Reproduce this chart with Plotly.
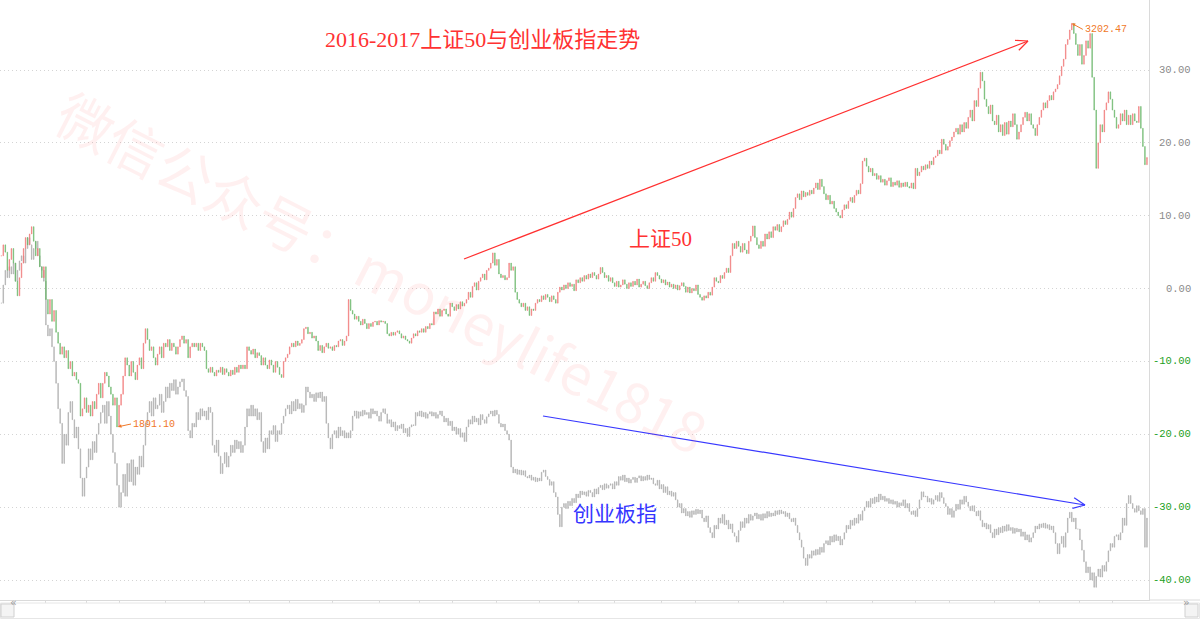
import math
import plotly.graph_objects as go

# ---------------- data (percent change vs. base) ----------------
sz50_close = [
    4.5, 6.0, 5.0, 2.5, 4.0, 5.5, 3.5, 1.0, -1.0, 1.5,
    3.5, 5.5, 7.0, 6.0, 7.5, 8.5, 6.5, 4.5, 5.5, 3.0,
    1.5, 3.0, -1.5, -3.5, -1.5, -4.5, -3.0, -6.0, -7.5, -9.0,
    -8.0, -9.5, -8.5, -11.0, -10.0, -12.0, -11.5, -12.5, -13.0, -17.5,
    -16.5, -15.0, -17.0, -16.0, -17.5, -15.5, -16.5, -14.5, -13.0, -15.0,
    -13.0, -11.5, -12.0, -13.5, -14.5, -16.0, -15.0, -19.0, -16.0, -14.5,
    -12.0, -9.5, -10.5, -12.0, -10.0, -11.5, -12.5, -10.5, -9.5, -11.0,
    -7.5, -5.5, -7.0, -8.5, -8.0, -9.5, -10.5, -9.0, -8.0, -9.5,
    -7.5, -8.0, -7.0, -8.5, -7.5, -8.0, -9.0, -8.0, -7.0, -6.5,
    -7.5, -7.0, -9.5, -8.0, -7.5, -8.0, -7.5, -8.5, -7.5, -8.0,
    -8.5, -11.0, -11.5, -10.8, -11.5, -12.0, -11.2, -11.5, -10.8, -11.8,
    -11.0, -11.5, -12.0, -11.2, -11.8, -10.8, -11.5, -10.5, -11.0, -10.5,
    -11.0, -8.0, -8.5, -9.0, -8.3, -9.5, -8.8, -9.2, -10.5, -9.5,
    -10.5, -11.0, -9.8, -10.5, -11.5, -10.0, -10.8, -11.8, -12.2, -10.0,
    -9.5, -9.0, -8.0, -7.5, -8.0, -7.2, -7.8, -7.5, -7.0, -5.5,
    -5.3, -6.2, -6.0, -6.8, -6.5, -7.2, -8.5, -7.8, -8.8, -8.0,
    -7.5, -8.2, -8.0, -8.5, -7.8, -8.0, -7.2, -7.0, -7.8, -7.2,
    -6.5, -1.5, -3.0, -3.5, -4.2, -3.8, -4.5, -5.0, -4.2, -4.8,
    -5.5, -4.8, -5.2, -4.6, -4.5, -5.0, -4.4, -4.6, -4.5, -4.8,
    -6.2, -6.5, -6.0, -6.4, -6.0, -5.8, -6.2, -6.8, -6.5, -7.0,
    -7.2, -7.5, -6.8, -6.2, -6.5, -5.8, -6.0, -5.5, -6.0, -5.2,
    -5.5, -4.8, -5.0, -3.2, -3.5, -2.8, -3.8, -3.0, -2.8, -3.5,
    -3.8, -2.0, -2.5, -3.0, -2.2, -2.8, -1.8, -2.4, -2.0, -1.5,
    -0.5, -1.2, 0.3, 0.8, -0.2, 1.0, 1.5, 2.0, 1.2, 2.5,
    2.8, 3.5, 4.9, 3.2, 4.0, 2.0, 1.5, 1.8, 1.2, 1.5,
    3.5, 2.5, 3.0, -0.5, -1.5, -2.0, -2.5, -2.0, -3.0, -2.5,
    -3.7, -2.8, -3.0, -2.0, -1.5, -1.8, -1.0, -1.5, -0.8, -1.2,
    -1.8, -1.0, -1.5, -2.0, -0.5, 0.2, -0.2, 0.5, 0.0, 0.8,
    0.3, 0.6, -0.3, 1.2, 0.8, 1.5, 1.0, 1.8, 1.3, 2.0,
    1.5, 2.2, 1.8, 1.3, 2.0, 2.9, 2.2, 1.5, 1.8, 1.0,
    1.5, 0.8, 0.3, 1.0, 0.2, 0.5, 1.2, 0.6, 0.0, 0.8,
    0.3, 1.0, 0.5, 1.3, 0.2, 0.6, 1.0, 0.4, 0.0, 0.8,
    1.5, 1.0, 2.2, 1.8, 1.3, 0.8, 1.2, 0.5, 0.9, 0.2,
    0.6, 0.0, 0.5, -0.2, 0.4, 0.8, 0.3, -0.5, 0.2, -0.6,
    0.0, -0.3, 0.5, -0.8, -1.2, -1.6, -1.0, -1.3, -0.5, -0.9,
    0.2, 1.5, 1.0, 0.8, 1.8, 1.4, 2.2, 2.8, 2.2, 4.5,
    6.2, 5.5, 6.5, 5.8, 5.0, 6.2, 5.3, 4.8, 6.5, 7.2,
    8.6, 7.0, 6.0, 5.5, 6.5, 5.8, 7.5, 6.8, 7.8, 7.0,
    8.5, 8.0, 8.8, 7.8, 8.5, 9.3, 8.8, 9.5, 10.5, 9.8,
    11.0, 12.5, 13.0, 12.2, 13.4, 12.6, 13.2, 12.8, 13.5, 13.0,
    13.8, 14.5, 13.6, 15.0, 14.0, 13.0, 12.2, 12.8, 11.6, 12.0,
    11.0, 10.5, 10.0, 9.7, 10.8, 11.5, 11.0, 12.0, 12.5, 11.8,
    12.8, 13.5, 13.0, 14.4, 17.5, 17.9, 16.8, 16.0, 16.5, 15.5,
    15.8, 15.0, 15.5, 14.6, 15.0, 14.2, 14.8, 15.2, 14.0, 14.6,
    14.2, 14.8, 13.9, 14.5, 14.0, 14.6, 14.0, 13.8, 14.5, 13.7,
    16.5, 15.5, 16.0, 16.8, 16.3, 17.0, 16.5, 17.5, 17.0, 18.0,
    18.2, 19.0, 18.5, 20.5, 19.8, 19.0, 19.5, 20.3, 20.8, 21.5,
    22.0, 21.2, 22.5, 21.5, 22.8, 22.0, 23.5, 24.5, 23.0, 25.8,
    25.0, 27.5, 29.7, 28.5, 26.0, 25.0, 24.0, 25.2, 23.0, 22.5,
    23.8, 21.5, 22.5, 21.0, 22.8, 21.2, 23.0, 22.2, 24.0, 22.5,
    20.5, 21.5, 22.5, 23.5, 24.2, 23.0, 24.0, 22.5, 22.0, 21.0,
    22.5, 23.5, 24.5, 25.5, 24.8, 25.8, 26.5, 25.9, 27.0, 27.4,
    28.0, 29.2, 30.5, 31.5, 33.5, 34.2, 35.5, 36.4, 35.0, 33.5,
    32.0, 33.5, 30.8, 32.0, 34.0, 33.0, 35.0, 29.0, 24.5, 16.5,
    20.0, 22.5, 21.5, 24.5, 25.5, 27.0, 26.0, 24.5, 23.5, 22.0,
    22.5, 24.0, 23.0, 24.5, 22.5, 23.8, 22.5, 24.0, 23.0, 22.8,
    25.0, 22.0, 19.5, 17.0, 18.0,
]

cyb_close = [
    -2.0, 0.5, 2.5, 1.5, 3.0, 2.0, 3.5, 1.0, 2.5, 3.8,
    4.5, 3.5, 5.5, 7.0, 6.0, 4.0, 5.5, 6.5, 4.5, 3.0,
    2.5, 1.0, -5.0, -6.5, -5.5, -8.0, -10.0, -13.0, -16.5, -18.5,
    -24.0, -20.0, -21.5, -17.0, -15.5, -18.0, -20.5, -19.0, -22.0, -26.0,
    -28.5, -26.0, -24.5, -22.0, -23.5, -21.0, -22.5, -20.0, -18.5, -17.0,
    -16.0, -18.5, -15.5, -17.5, -20.0, -22.5, -24.0, -27.0, -30.0, -28.0,
    -25.5, -28.5, -24.0, -26.5, -23.5, -27.0, -24.5, -25.5, -23.0, -24.5,
    -21.5, -18.5, -17.0, -15.5, -17.5, -15.0, -16.5, -16.0, -14.5, -17.0,
    -15.5, -13.5, -15.0, -13.0, -14.0, -12.5, -14.5, -13.5, -12.8, -12.4,
    -14.0, -14.8, -19.5, -20.5, -18.5, -19.0, -17.0, -18.0, -16.5, -17.5,
    -16.8, -18.0, -16.3, -17.0, -21.5, -22.5, -20.8, -23.0, -25.4, -24.0,
    -22.5, -24.5, -23.0, -21.5, -22.5, -20.8, -22.0, -21.0, -22.5, -21.5,
    -19.0, -16.5, -17.5, -16.0, -17.5, -16.5, -18.0, -17.0, -21.0, -22.5,
    -20.5, -22.0, -19.5, -20.0, -18.8, -21.0, -19.5, -20.0, -18.5, -17.5,
    -16.5, -16.0, -17.2, -15.5, -16.8, -15.2, -16.5, -15.8, -17.0, -16.0,
    -13.5, -14.2, -15.0, -14.5, -15.5, -14.3, -15.0, -14.2, -15.5, -14.8,
    -18.5, -20.5, -22.0, -20.0, -19.5, -20.5, -19.0, -20.2, -19.5, -20.5,
    -19.8, -20.5, -19.5, -17.5, -16.8, -17.8, -16.9, -17.5, -16.7, -17.3,
    -17.0, -17.8, -16.5, -17.2, -16.8, -17.5, -18.2, -17.0, -16.5, -17.2,
    -18.5, -18.0, -19.0, -18.3, -19.5, -18.8, -19.2, -18.6, -19.8, -19.2,
    -20.3, -19.0, -18.7, -18.8, -17.0, -17.5, -16.8, -17.6, -17.0, -17.8,
    -17.2, -16.9, -17.5, -17.0, -17.8, -17.3, -16.8, -17.5, -18.3, -17.8,
    -18.8, -18.2, -19.5, -19.0, -20.0, -19.2, -20.4, -19.8, -21.0, -19.0,
    -18.0, -18.6, -17.5, -18.3, -17.8, -18.7, -17.3, -18.0, -18.5, -17.6,
    -17.2, -16.8, -17.5, -16.7, -17.3, -18.5, -19.0, -18.6, -19.5, -20.0,
    -20.8, -24.5, -25.3, -24.8, -25.5, -24.9, -25.6, -25.0, -25.8, -26.0,
    -25.6, -26.3, -25.9, -26.5, -26.0, -26.4, -25.2, -24.9, -25.8, -26.2,
    -27.0, -26.5, -28.0, -28.6, -31.0, -32.7, -30.0, -29.5, -30.2, -29.2,
    -29.8, -28.8, -29.4, -28.2, -28.7, -27.8, -28.3, -27.9, -28.5, -27.7,
    -28.0, -28.6, -27.5, -28.2, -27.3, -27.0, -27.6, -26.8, -27.4, -27.0,
    -26.8, -27.5, -26.5, -27.0, -25.8, -26.3, -25.6, -26.5, -26.0, -26.7,
    -26.2, -25.9, -26.6, -26.0, -25.7, -26.4, -25.8, -26.3, -25.6, -26.2,
    -26.0, -26.8, -27.0, -26.3, -27.5, -26.9, -28.0, -27.2, -28.3, -27.8,
    -28.5, -28.0, -29.0, -30.0, -29.5, -30.8, -30.2, -31.2, -30.6, -31.4,
    -30.5, -31.0, -30.3, -30.9, -30.4, -31.5, -32.0, -31.2, -32.8, -33.5,
    -34.2, -32.5, -33.0, -31.5, -32.2, -31.0, -32.4, -31.8, -33.0, -32.3,
    -33.5, -34.0, -34.8, -33.2, -32.0, -32.8, -31.5, -32.2, -31.0, -31.8,
    -31.2, -30.8, -31.6, -31.0, -31.8, -30.9, -31.5, -30.6, -31.3, -30.8,
    -31.2, -30.5, -31.0, -30.4, -30.9, -30.6, -31.3, -30.8, -31.6, -32.0,
    -31.5, -32.5, -33.5, -34.5, -35.5, -37.0, -38.0, -36.5, -37.0, -36.0,
    -36.6, -35.8, -36.5, -35.5, -36.2, -35.0, -34.6, -35.2, -34.0, -34.8,
    -33.8, -34.6, -34.0, -35.2, -34.4, -33.5, -32.5, -33.0, -31.8, -32.5,
    -31.5, -32.2, -31.0, -31.8, -30.5, -30.0, -29.2, -30.0, -28.8, -29.5,
    -28.6, -29.3, -28.2, -29.0, -28.5, -29.2, -28.8, -29.5, -29.0, -29.6,
    -29.2, -30.0, -29.4, -29.8, -29.0, -30.1, -29.5, -30.6, -31.0, -30.5,
    -31.3, -30.2, -29.0, -27.9, -28.6, -28.5, -29.3, -28.8, -29.6, -29.0,
    -28.4, -29.2, -28.0, -28.7, -29.5, -29.9, -31.0, -30.2, -31.4, -30.5,
    -29.6, -30.3, -29.0, -29.6, -28.5, -29.3, -29.9, -30.5, -29.8, -30.6,
    -31.2, -30.5, -31.8, -32.7, -32.2, -33.0, -32.4, -33.5, -34.2, -33.0,
    -33.8, -32.8, -33.5, -32.6, -33.3, -32.4, -33.2, -32.8, -33.6, -32.9,
    -33.4, -33.0, -34.0, -33.4, -34.5, -33.8, -34.8, -34.2, -33.5, -32.6,
    -33.0, -32.3, -32.8, -32.2, -32.9, -32.4, -33.1, -32.6, -33.5, -35.0,
    -36.4, -35.0, -34.0, -35.5, -33.5, -31.5, -30.7, -32.0, -31.5, -33.0,
    -33.0, -34.5, -35.9, -37.5, -39.0, -38.2, -40.0, -39.0, -41.0, -39.5,
    -38.5, -39.6, -38.0, -38.8, -37.5, -36.0, -35.0, -35.5, -34.0, -33.8,
    -34.5, -33.5, -31.5, -32.5, -29.5, -28.4, -29.5, -30.2, -30.7, -29.8,
    -30.5, -31.0, -30.2, -35.5, -31.5,
]

y_tick_values = [30, 20, 10, 0, -10, -20, -30, -40]
y_tick_labels = ["30.00", "20.00", "10.00", "0.00", "-10.00", "-20.00", "-30.00", "-40.00"]
month_tick_index = [22, 42, 58, 81, 100, 122, 142, 163, 186, 206, 222, 244, 265, 284,
                    302, 325, 342, 363, 385, 406, 429, 450, 467, 489, 511, 531, 547]

title_text = "2016-2017上证50与创业板指走势"
sz50_name = "上证50"
cyb_name = "创业板指"
watermark_text = "微信公众号：moneylife1818"
low_price_label = "1891.10"
high_price_label = "3202.47"

# ---------------- geometry / style ----------------
W, H = 1200, 620
PLOT_W, PLOT_H = 1149, 600
X_RANGE = [-0.6, 565.0]
Y_RANGE = [-42.745, 39.61]

RED = "#F07A7A"
GREEN = "#6DB86D"
GRAY = "#ADADAD"
ORANGE = "#F07828"
LINE_GRAY = "#DADADA"

n = min(len(sz50_close), len(cyb_close))
sz50_close = sz50_close[:n]
cyb_close = cyb_close[:n]
idx = list(range(n))


def ohlc(close):
    o = [close[0]] + close[:-1]
    h = [max(a, b) for a, b in zip(o, close)]
    l = [min(a, b) for a, b in zip(o, close)]
    return o, h, l


def px_to_x(px):
    return X_RANGE[0] + px / PLOT_W * (X_RANGE[1] - X_RANGE[0])


def py_to_y(py):
    return Y_RANGE[1] - py / PLOT_H * (Y_RANGE[1] - Y_RANGE[0])


fig = go.Figure()

co, ch, cl = ohlc(cyb_close)
fig.add_trace(go.Candlestick(
    x=idx, open=co, high=ch, low=cl, close=cyb_close,
    increasing=dict(line=dict(color=GRAY, width=0.5), fillcolor=GRAY),
    decreasing=dict(line=dict(color=GRAY, width=0.5), fillcolor=GRAY),
    whiskerwidth=0, showlegend=False, hoverinfo="skip", name=cyb_name))

so, sh, sl = ohlc(sz50_close)
fig.add_trace(go.Candlestick(
    x=idx, open=so, high=sh, low=sl, close=sz50_close,
    increasing=dict(line=dict(color=RED, width=0.5), fillcolor=RED),
    decreasing=dict(line=dict(color=GREEN, width=0.5), fillcolor=GREEN),
    whiskerwidth=0, showlegend=False, hoverinfo="skip", name=sz50_name))

shapes = []


def arrow(p0, p1, color):
    (x0, y0), (x1, y1) = p0, p1
    shapes.append(dict(type="line", xref="x", yref="y",
                       x0=px_to_x(x0), y0=py_to_y(y0), x1=px_to_x(x1), y1=py_to_y(y1),
                       line=dict(color=color, width=1.2)))
    ang = math.atan2(y1 - y0, x1 - x0)
    for s in (1, -1):
        a = ang + math.pi + s * 0.42
        wx, wy = x1 + 13 * math.cos(a), y1 + 13 * math.sin(a)
        shapes.append(dict(type="line", xref="x", yref="y",
                           x0=px_to_x(x1), y0=py_to_y(y1), x1=px_to_x(wx), y1=py_to_y(wy),
                           line=dict(color=color, width=1.2)))


arrow((464, 259), (1028, 41), "#FF3030")
arrow((543, 416), (1085, 505), "#3838FF")

# bottom axis extension and scrollbar
px = lambda v: v / PLOT_W
py = lambda v: (PLOT_H - v) / PLOT_H
shapes.append(dict(type="line", xref="paper", yref="paper", x0=px(PLOT_W), x1=px(W), y0=0, y1=0,
                   line=dict(color=LINE_GRAY, width=1)))
shapes.append(dict(type="rect", xref="paper", yref="paper", x0=px(0.5), x1=px(W - 0.5),
                   y0=py(618.5), y1=py(603), line=dict(color="#E6E6E6", width=1), fillcolor="#FFFFFF"))
for bx in (1, 1185):
    shapes.append(dict(type="rect", xref="paper", yref="paper", x0=px(bx), x1=px(bx + 13),
                       y0=py(617), y1=py(604), line=dict(color="#D0D0D0", width=1), fillcolor="#F4F4F4"))

annotations = []
for v, t in zip(y_tick_values, y_tick_labels):
    annotations.append(dict(xref="paper", yref="y", x=px(1193), y=v, text=t, showarrow=False,
                            xanchor="right", yanchor="middle",
                            font=dict(family="Liberation Mono, monospace", size=10.5,
                                      color="#8A8A8A" if v >= 0 else "#22A022")))

annotations.append(dict(xref="paper", yref="paper", x=px(7.5), y=py(610.5), text="«", showarrow=False,
                        font=dict(size=11, color="#999999", family="DejaVu Sans")))
annotations.append(dict(xref="paper", yref="paper", x=px(1191.5), y=py(610.5), text="»", showarrow=False,
                        font=dict(size=11, color="#999999", family="DejaVu Sans")))

# watermark
annotations.append(dict(xref="paper", yref="paper", x=px(383), y=py(270), text=watermark_text,
                        showarrow=False, textangle=27,
                        font=dict(family="Noto Sans CJK SC, sans-serif", size=56,
                                  color="rgba(255,60,60,0.075)")))

# titles / labels
annotations.append(dict(xref="paper", yref="paper", x=px(482), y=py(40), yanchor="middle",
                        text=title_text, showarrow=False,
                        font=dict(family="Liberation Serif, Noto Sans CJK SC", size=22, color="#FF3232")))
annotations.append(dict(xref="paper", yref="paper", x=px(660), y=py(239), text=sz50_name, showarrow=False,
                        font=dict(family="Liberation Serif, Noto Sans CJK SC", size=21, color="#FF3232")))
annotations.append(dict(xref="paper", yref="paper", x=px(615), y=py(529), text=cyb_name, showarrow=False,
                        font=dict(family="Noto Sans CJK SC", size=21, color="#3535FF")))

# low / high price labels
lo_i = min(idx, key=lambda i: sz50_close[i])
hi_i = max(idx, key=lambda i: sz50_close[i])
annotations.append(dict(x=lo_i, y=sz50_close[lo_i], xref="x", yref="y", text=low_price_label,
                        showarrow=True, ax=14, ay=-3, xanchor="left", arrowhead=2, arrowsize=0.7,
                        arrowwidth=1, arrowcolor=ORANGE, standoff=1,
                        font=dict(family="Liberation Mono, monospace", size=10, color=ORANGE)))
annotations.append(dict(x=hi_i, y=sz50_close[hi_i], xref="x", yref="y", text=high_price_label,
                        showarrow=True, ax=11, ay=6, xanchor="left", arrowhead=2, arrowsize=0.7,
                        arrowwidth=1, arrowcolor=ORANGE, standoff=0,
                        font=dict(family="Liberation Mono, monospace", size=10, color=ORANGE)))

fig.update_layout(
    width=W, height=H,
    margin=dict(l=0, r=W - PLOT_W, t=0, b=H - PLOT_H),
    paper_bgcolor="white", plot_bgcolor="white",
    showlegend=False, boxgap=0.55,
    shapes=shapes, annotations=annotations,
    xaxis=dict(range=X_RANGE, rangeslider=dict(visible=False), showgrid=False, zeroline=False,
               showline=True, linecolor=LINE_GRAY, linewidth=1,
               tickmode="array", tickvals=month_tick_index, ticks="outside", ticklen=3,
               tickcolor=LINE_GRAY, showticklabels=False, fixedrange=True),
    yaxis=dict(range=Y_RANGE, side="right", showgrid=True, gridcolor="#D4D4D4", griddash="1px,3px",
               gridwidth=1, zeroline=False, showline=True, linecolor=LINE_GRAY, linewidth=1,
               tickmode="array", tickvals=y_tick_values, showticklabels=False, ticks="",
               fixedrange=True),
)

fig.write_html("out.html")
